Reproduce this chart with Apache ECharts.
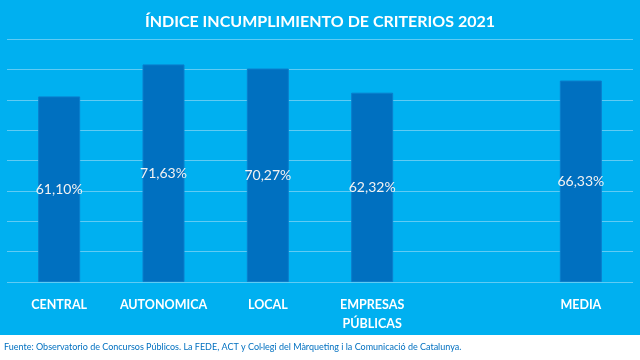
<!DOCTYPE html>
<html><head><meta charset="utf-8">
<script src="https://cdn.jsdelivr.net/npm/echarts@6/dist/echarts.min.js"></script>
<style>html,body{margin:0;padding:0;background:#fff}#c{width:640px;height:360px}</style>
</head><body><div id="c"></div>
<script>
const titleText = 'ÍNDICE INCUMPLIMIENTO DE CRITERIOS 2021';
const categories = ['CENTRAL', 'AUTONOMICA', 'LOCAL', 'EMPRESAS\nPÚBLICAS', '', 'MEDIA'];
const values = [61.10, 71.63, 70.27, 62.32, null, 66.33];
const sourceText = 'Fuente: Observatorio de Concursos Públicos. La FEDE, ACT y Col·legi del Màrqueting i la Comunicació de Catalunya.';

const chart = echarts.init(document.getElementById('c'));
chart.setOption({
  backgroundColor: '#00B0F0',
  animation: false,
  title: {
    text: titleText, left: 'center', top: 9,
    textStyle: { color: '#fff', fontFamily: 'Lato', fontWeight: 'bold', fontSize: 16 }
  },
  graphic: [
    { type: 'rect', left: 0, bottom: 0, shape: { width: 640, height: 25 }, style: { fill: '#fff' }, z: 0 },
    { type: 'text', left: 4, bottom: 8, style: { text: sourceText, fill: '#0070C0', font: '9px Lato' }, z: 1 }
  ],
  grid: { left: 7, right: 7, top: 39, bottom: 78 },
  xAxis: {
    type: 'category', data: categories,
    axisLine: { show: false }, axisTick: { show: false },
    axisLabel: { color: '#fff', fontWeight: 'bold', fontSize: 12.5, fontFamily: 'Lato', margin: 13, lineHeight: 19, interval: 0, verticalAlign: 'top' }
  },
  yAxis: {
    type: 'value', min: 0, max: 80, interval: 10,
    axisLabel: { show: false }, axisLine: { show: false }, axisTick: { show: false },
    splitLine: { lineStyle: { color: '#5FCBF4', width: 1 } }
  },
  series: [{
    type: 'bar', data: values, barWidth: 42,
    itemStyle: { color: '#0070C0', borderColor: '#0A7ECC', borderWidth: 1 },
    label: {
      show: true, position: 'inside', color: '#F2F2F2', fontSize: 14, fontFamily: 'Lato',
      formatter: p => p.value.toFixed(2).replace('.', ',') + '%'
    }
  }]
});
</script></body></html>
